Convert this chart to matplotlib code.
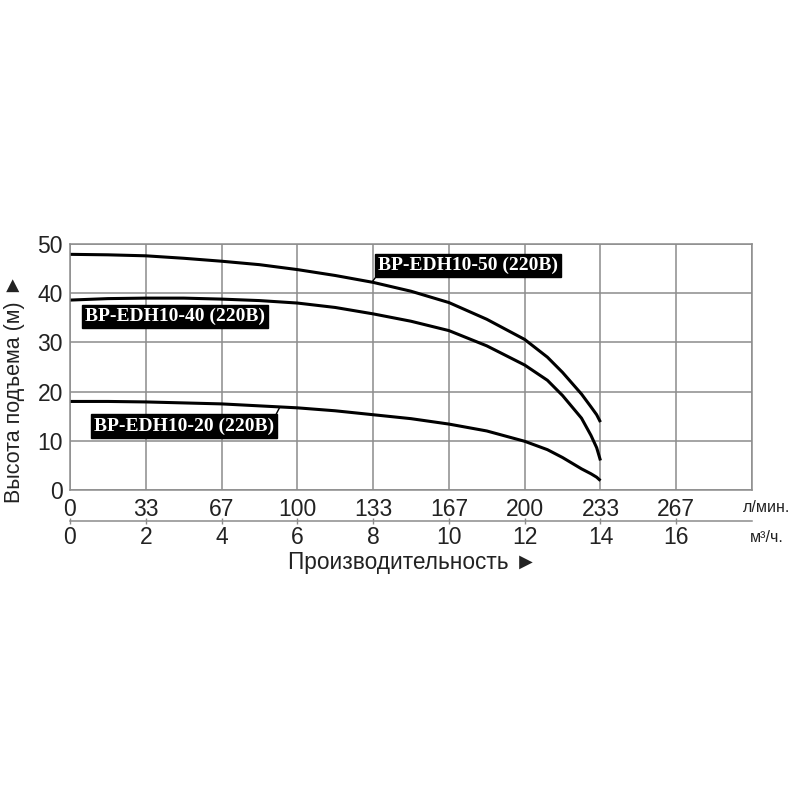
import numpy as np
import matplotlib.pyplot as plt

plt.rcParams['font.family'] = ['Liberation Sans', 'DejaVu Sans']

# Data: flow in m3/h, head in m
flow = [0, 1, 2, 3, 4, 5, 6, 7, 8, 9, 10, 11, 12, 12.6, 13, 13.5, 13.75, 13.9, 14]
head_50 = [47.9, 47.8, 47.6, 47.1, 46.5, 45.8, 44.8, 43.6, 42.2, 40.4, 38.1, 34.7,
           30.6, 27.0, 23.9, 19.5, 16.9, 15.3, 13.8]
head_40 = [38.6, 38.9, 39.0, 39.0, 38.8, 38.5, 38.0, 37.1, 35.8, 34.3, 32.4, 29.3,
           25.4, 22.3, 19.2, 14.6, 11.1, 8.6, 6.0]
head_20 = [18.0, 18.0, 17.9, 17.7, 17.5, 17.1, 16.7, 16.1, 15.3, 14.5, 13.4, 12.0,
           9.9, 8.2, 6.6, 4.3, 3.3, 2.6, 1.9]

m3_ticks = [0, 2, 4, 6, 8, 10, 12, 14, 16]
lmin_labels = ["0", "33", "67", "100", "133", "167", "200", "233", "267"]
head_ticks = [0, 10, 20, 30, 40, 50]

labels = ["BP-EDH10-50 (220B)", "BP-EDH10-40 (220B)", "BP-EDH10-20 (220B)"]

fig = plt.figure(figsize=(8, 8), dpi=100)
ax = fig.add_axes([70/800, 1-490/800, 682/800, 246/800])

for h in [head_50, head_40, head_20]:
    ax.plot(flow, h, color='black', lw=2.2, solid_capstyle='butt', solid_joinstyle='round')

ax.set_xlim(0, 18)
ax.set_ylim(0, 50)
ax.set_xticks(m3_ticks + [18])
ax.set_xticklabels(lmin_labels + [""])
ax.set_yticks(head_ticks)
ax.grid(True, color='#8c8c8c', lw=1.1)
for s in ax.spines.values():
    s.set_color('#8c8c8c')
    s.set_linewidth(1.1)
ax.tick_params(axis='both', length=0, labelsize=16.5, colors='#222222')
ax.tick_params(axis='x', pad=6)
ax.tick_params(axis='y', pad=5)

# second axis in m3/h
sec = ax.secondary_xaxis(-0.126)
sec.set_xticks(m3_ticks)
sec.set_xticklabels([str(v) for v in m3_ticks])
sec.spines['bottom'].set_color('#8c8c8c')
sec.spines['bottom'].set_linewidth(1.1)
sec.tick_params(axis='x', direction='inout', length=5, width=1, color='#8c8c8c',
                labelsize=16.5, labelcolor='#222222', pad=1)

fig.text(743/800, 1-508/800, "л/мин.", fontsize=11.5, color='#222222', va='center', ha='left')
fig.text(750/800, 1-538/800, "м³/ч.", fontsize=11.5, color='#222222', va='center', ha='left')

fig.text(413/800, 1-563/800, "Производительность ►", fontsize=16.3, color='#222222',
         ha='center', va='center')
fig.text(15/800, 1-389/800, "Высота подъема (м) ►", fontsize=15.5, color='#222222',
         ha='center', va='center', rotation=90)

# curve labels
box = dict(boxstyle='square,pad=0.15', fc='black', ec='black')
tkw = dict(color='white', fontsize=14, fontweight='bold', family='Liberation Serif',
           ha='center', va='center', bbox=box)
ax.annotate(labels[0], xy=(7.97, np.interp(7.97, flow, head_50)), xytext=(10.5, 45.6),
            arrowprops=dict(arrowstyle='-', color='black', lw=1, relpos=(0, 0),
                            shrinkA=0, shrinkB=0), **tkw)
ax.annotate(labels[1], xy=(2.77, 35.2), xytext=(2.77, 35.2), **tkw)
ax.annotate(labels[2], xy=(5.54, np.interp(5.54, flow, head_20)), xytext=(3.02, 13.0),
            arrowprops=dict(arrowstyle='-', color='black', lw=1, relpos=(1, 1),
                            shrinkA=0, shrinkB=0), **tkw)

fig.savefig('out.png', dpi=100, facecolor='white')
